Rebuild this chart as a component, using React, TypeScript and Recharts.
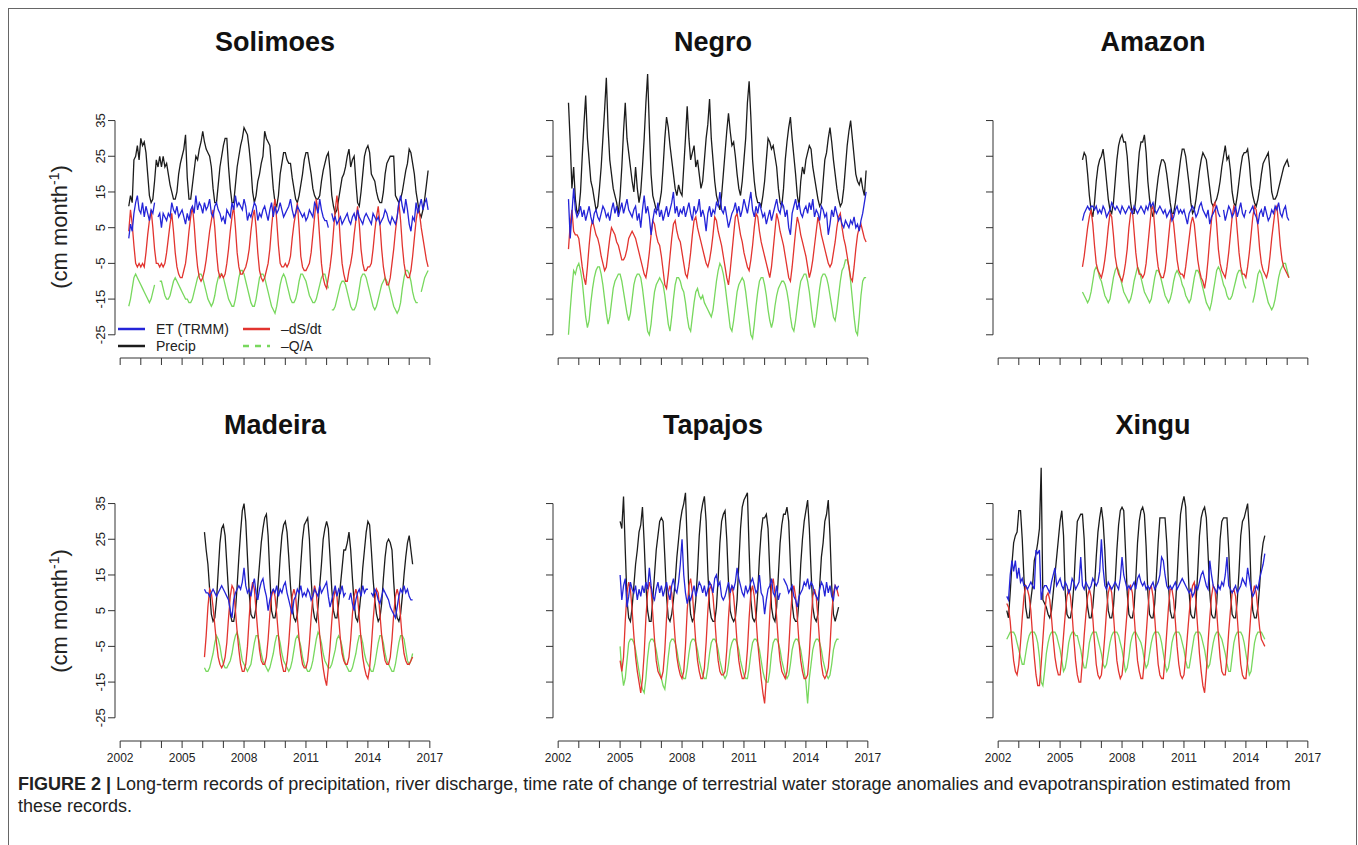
import React from 'react';
import { LineChart, Line, XAxis, YAxis, ReferenceLine } from 'recharts';

const FONT = '"Liberation Sans", Arial, Helvetica, sans-serif';
const C_ET = '#2424d8';
const C_P = '#1c1c1c';
const C_DS = '#e2342f';
const C_Q = '#78d85e';

const YEAR_TICKS = [2002, 2003, 2004, 2005, 2006, 2007, 2008, 2009, 2010, 2011, 2012, 2013, 2014, 2015, 2016, 2017];
const YEAR_LABELS = [2002, 2005, 2008, 2011, 2014, 2017];
const VALUE_TICKS = [-25, -15, -5, 5, 15, 25, 35];

// monthly series, one row per calendar year (first row starts at the panel's start month)

// Solimoes, from Jun 2002
const SOL_P = [
  11, 14, 12, 24, 25, 28, 24,
  30, 28, 29, 26, 20, 14, 12, 13, 18, 24, 22, 25,
  22, 25, 22, 23, 20, 17, 15, 13, 13, 15, 20, 23,
  25, 27, 31, 19, 13, 13, 17, 21, 25, 24, 27, 29,
  32, 29, 27, 26, 25, 22, 16, 12, 12, 17, 22, 25,
  28, 30, 30, 22, 16, 12, 12, 17, 22, 25, 28, 30,
  33, 32, 31, 27, 22, 15, 12, 14, 18, 20, 23, 25,
  32, 30, 29, 28, 22, 16, 12, 11, 14, 20, 23, 26,
  26, 24, 23, 23, 19, 16, 13, 12, 14, 17, 20, 24,
  26, 26, 23, 20, 16, 14, 13, 13, 14, 18, 21, 23,
  25, 26, 21, 14, 11, 9, 10, 13, 16, 19, 20, 22,
  25, 27, 22, 24, 25, 18, 12, 11, 15, 20, 25, 27,
  28, 26, 20, 19, 18, 15, 13, 12, 12, 15, 20, 23,
  24, 25, 25, 25, 14, 13, 12, 13, 15, 18, 21, 23,
  27, 26, 23, 20, 15, 12, 9, 8, 10, 13, 17, 21,
];
const SOL_ET = [
  2, 6, 4, 9, 12, 14, 10,
  9, 12, 8, 11, 9, 7, 10, 9, 12, null, 8, 9,
  5, 9, 8, 7, 9, 8, 12, 10, 9, 11, 8, 9,
  10, 8, 6, 9, 7, 10, 11, 9, 14, 10, 12, 11,
  9, 12, 10, 11, 13, 9, 8, 11, 12, 10, 9, 7,
  8, 6, 10, 9, 8, 12, 10, 14, 11, 12, 11, 10,
  13, 11, 7, 9, 8, 10, 12, 11, 7, 9, 8, 10,
  11, 9, 7, 10, 12, 8, 11, 9, 10, 12, 10, 8,
  9, 10, 11, 13, 10, 8, 9, 11, 10, 9, 8, 9,
  7, 8, 10, 9, 8, 12, 11, 9, 13, 10, 8, 7,
  7, 5, null, 9, 7, 8, 6, 7, 8, 6, 7, 8,
  9, 7, 6, 8, 9, 7, 10, 8, 7, 6, 8, 9,
  8, 7, 6, 9, 8, 7, 8, 6, 7, 8, 10, 9,
  7, 6, 8, 7, 6, 8, 12, 14, 11, 9, 13, 10,
  6, 4, 8, 7, 12, 9, 11, 13, 10, 12, 13, 10,
];
const SOL_DS = [
  4, 10, 6, 0, -5, -6, -5,
  -6, -5, -6, -2, 3, 7, 10, 5, -1, -5, -5, -6,
  -5, -6, -5, -2, 2, 6, 9, 4, -2, -6, -8, -9,
  -9, -7, -5, -1, 4, 8, 11, 6, -1, -6, -9, -10,
  -9, -7, -4, 0, 4, 7, 10, 5, -2, -7, -9, -8,
  -9, -8, -5, -1, 4, 8, 11, 5, -2, -6, -8, -8,
  -7, -6, -4, -1, 4, 8, 10, 5, -2, -7, -9, -10,
  -9, -7, -5, -1, 5, 10, 13, 7, 0, -5, -6, -6,
  -5, -6, -5, -3, 2, 6, 9, 12, 5, -3, -6, -7,
  -7, -6, -5, -2, 3, 8, 13, 9, 2, -5, -9, -11,
  -12, -9, -6, -2, 4, 10, 14, 9, 1, -5, -8, -10,
  -10, -7, -5, -2, 3, 7, 11, 6, -1, -5, -7, -7,
  -6, -6, -5, -1, 4, 8, 11, 6, -1, -6, -9, -11,
  -11, -9, -5, -1, 4, 8, 12, 7, 0, -5, -8, -9,
  -9, -7, -3, 2, 7, 10, 9, 5, 2, -1, -4, -6,
];
const SOL_Q = [
  -17, -15, -12, -9, -8, -9, -10,
  -11, -12, -13, -14, -15, -16, -15, -13, -11, null, null, -10,
  -10, -12, -14, -15, -15, -14, -12, -10, -9, -10, -11, -12,
  -13, -14, -15, -15, -16, -16, -15, -13, -11, -9, -8, -8,
  -9, -11, -13, -15, -16, -17, -16, -14, -11, -9, -8, -8,
  -9, -11, -13, -15, -16, -17, -17, -15, -12, -9, -7, -7,
  -8, -10, -12, -14, -16, -17, -17, -15, -12, -9, -8, -8,
  -9, -11, -13, -15, -17, -18, -19, -17, -14, -11, -9, -8,
  -9, -11, -13, -15, -16, -16, -15, -13, -10, -8, -8, -9,
  -10, -12, -14, -15, -16, -16, -15, -13, -11, -9, -8, -8,
  -10, -12, null, -18, -18, -17, -15, -13, -11, -10, -10, -11,
  -13, -15, -17, -18, -18, -17, -15, -12, -9, -8, -8, -9,
  -11, -13, -15, -17, -18, -17, -15, -13, -11, -10, -9, -10,
  -11, -13, -15, -17, -18, -19, -18, -16, -12, -9, -7, -7,
  -8, -10, -13, -15, -16, -16, null, -13, -11, -9, -8, -7,
];

// Negro, from Jul 2002
const NEG_P = [
  40, 29, 16, 22, 13, 9,
  10, 15, 25, 34, 42, 30, 24, 18, 16, 13, 10, 11,
  16, 22, 30, 38, 47, 33, 24, 20, 16, 14, 12, 9,
  14, 22, 32, 40, 30, 26, 22, 18, 15, 22, 16, 12,
  15, 22, 30, 40, 48, 33, 20, 14, 12, 10, 10, 12,
  15, 22, 30, 36, 33, 28, 24, 20, 16, 14, 17, 15,
  14, 22, 30, 39, 30, 24, 26, 28, 22, 24, 20, 16,
  18, 24, 30, 34, 41, 30, 24, 18, 14, 12, 10, 14,
  20, 26, 32, 37, 32, 28, 29, 25, 20, 16, 14, 18,
  24, 30, 40, 46, 36, 24, 18, 14, 12, 12, 11, 14,
  18, 24, 30, 29, 27, 28, 25, 22, 16, 12, 11, 16,
  24, 29, 33, 36, 30, 25, 20, 14, 11, 18, 22, 20,
  24, 26, 28, 27, 22, 19, 16, 13, 11, 12, 18, 24,
  26, 30, 33, 29, 24, 20, 16, 13, 11, 12, 16, 22,
  28, 32, 35, 30, 25, 20, 18, 17, 19, 16, 14, 21,
];
const NEG_ET = [
  13, 2, 9, 16, 10, 8,
  9, 11, 8, 10, 7, 9, 11, 8, 6, 9, 10, 8,
  7, 9, 11, 10, 8, 9, 7, 10, 12, 9, 11, 8,
  10, 12, 9, 11, 13, 10, 9, 8, 10, 11, 7, 9,
  5, 10, 14, 9, 11, 8, 3, 7, 10, 9, 12, 8,
  10, 7, 9, 11, 8, 10, 12, 15, 9, 11, 8, 10,
  9, 11, 8, 10, 12, 9, 7, 11, 9, 10, 13, 8,
  10, 8, 4, 9, 11, 8, 10, 9, 12, 11, 15, 10,
  9, 11, 8, 5, 7, 9, 10, 12, 9, 11, 8, 10,
  13, 11, 9, 12, 15, 10, 8, 11, 9, 12, 10, 8,
  9, 6, 8, 10, 7, 9, 11, 13, 10, 9, 12, 11,
  8, 10, 5, 3, 9, 11, 13, 10, 12, 9, 8, 10,
  11, 9, 12, 10, 13, 8, 10, 9, 7, 11, 10, 8,
  9, 3, 6, 10, 8, 11, 9, 7, 8, 6, 5, 7,
  6, 5, 7, 6, 8, 5, 6, 4, 7, 9, 12, 15,
];
const NEG_DS = [
  -1, 6, 10, 4, 3, 3,
  2, -2, -6, -9, -11, -6, 0, 5, 7, 5, 3, 2,
  0, -3, -5, -7, -6, -2, 2, 5, 4, 3, 1, 0,
  -2, -4, -4, -3, -1, 2, 3, 4, 3, 2, 0, -2,
  -4, -6, -8, -9, -6, -2, 3, 7, 6, 3, 1, 0,
  -3, -7, -11, -12, -8, -3, 2, 6, 7, 4, 2, 1,
  -2, -5, -8, -9, -6, -2, 3, 7, 8, 5, 3, 1,
  -1, -3, -5, -6, -4, -1, 3, 8, 7, 4, 2, 0,
  -3, -6, -9, -11, -7, -2, 3, 8, 9, 6, 3, 1,
  -2, -4, -6, -7, -4, 0, 5, 9, 8, 4, 1, -1,
  -3, -5, -7, -9, -6, -1, 4, 9, 7, 4, 2, 0,
  -3, -6, -9, -10, -6, -1, 4, 8, 6, 3, 1, -1,
  -3, -6, -9, -7, -4, 0, 4, 8, 6, 3, 1, -1,
  -3, -5, -6, -5, -2, 1, 5, 8, 9, 5, 2, 0,
  -3, -6, -9, -10, -6, -1, 3, 5, 6, 4, 2, 1,
];
const NEG_Q = [
  -25, -18, -12, -7, -8, -6,
  -5, -7, -10, -15, -20, -23, -21, -16, -12, -9, -7, -6,
  -6, -8, -11, -15, -19, -22, -20, -16, -12, -10, -9, -8,
  -8, -10, -13, -16, -19, -21, -19, -15, -11, -9, -8, -8,
  -9, -12, -16, -20, -24, -25, -22, -17, -13, -11, -10, -9,
  -10, -11, -14, -18, -22, -24, -20, -15, -11, -9, -9, -10,
  -12, -13, -16, -20, -23, -24, -20, -16, -13, -12, -14, -15,
  -14, -16, -17, -18, -19, -20, -18, -14, -10, -7, -5, -6,
  -8, -11, -15, -19, -23, -24, -21, -17, -13, -11, -10, -9,
  -10, -13, -17, -21, -25, -26, -22, -17, -13, -10, -9, -9,
  -11, -14, -18, -21, -23, -21, -17, -14, -12, -11, -10, -10,
  -11, -13, -16, -20, -23, -24, -21, -17, -13, -10, -9, -8,
  -8, -10, -13, -17, -21, -23, -20, -16, -12, -9, -8, -8,
  -9, -11, -14, -17, -20, -21, -18, -14, -10, -7, -6, -4,
  -4, -6, -10, -15, -20, -24, -25, -20, -14, -10, -9, -9,
];

// Amazon, from Feb 2006
const AMA_P = [
  24, 26, 25, 20, 14, 10, 8, 12, 18, 22, 24,
  25, 27, 23, 18, 13, 10, 9, 12, 18, 24, 28, 30,
  31, 29, 29, 25, 18, 12, 9, 9, 13, 20, 26, 29,
  29, 31, 26, 18, 13, 10, 8, 10, 15, 19, 22, 24,
  24, 23, 20, 16, 12, 9, 9, 12, 16, 20, 24, 27,
  27, 25, 21, 17, 12, 9, 10, 13, 17, 21, 24, 26,
  25, 24, 20, 16, 12, 11, 12, 13, 15, 18, 22, 25,
  28, 24, 25, 21, 15, 12, 11, 14, 18, 22, 25, 26,
  26, 27, 23, 17, 14, 12, 11, 13, 16, 20, 23, 24,
  25, 26, 21, 15, 13, 13, 14, 16, 18, 20, 22, 23,
  24, 22,
];
const AMA_ET = [
  7, 9, 10, 11, 10, 11, 11, 10, 11, 9, 10,
  9, 11, 10, 8, 9, 10, 12, 11, 10, 11, 10, 9,
  11, 10, 9, 10, 11, 10, 9, 11, 10, 9, 10, 11,
  10, 9, 11, 10, 12, 11, 12, 10, 9, 10, 11, 10,
  9, 10, 8, 9, 10, 7, 8, 10, 11, 9, 10, 9,
  10, 8, 6, 9, 10, 11, 10, 8, 9, 11, 12, 10,
  9, 8, 10, 6, 8, 9, 10, 11, 9, 8, null, 10,
  7, 9, 11, 10, 8, 9, 11, 8, 10, 12, 9, 8,
  10, null, 9, 10, 11, 9, 8, 6, 9, 10, 8, 11,
  9, 7, 8, 10, 9, 11, 10, 12, 9, 8, 10, 11,
  8, 7,
];
const AMA_DS = [
  -6, -3, 1, 5, 8, 10, 6, 0, -5, -7, -8,
  -9, -7, -4, 0, 5, 9, 8, 3, -3, -6, -8, -9,
  -10, -8, -5, -1, 5, 9, 10, 4, -2, -6, -8, -8,
  -9, -8, -5, 0, 5, 10, 11, 5, -2, -6, -8, -9,
  -9, -7, -3, 2, 7, 9, 6, 1, -4, -7, -8, -8,
  -9, -6, -2, 2, 6, 8, 6, 1, -4, -7, -9, -10,
  -12, -9, -4, 2, 7, 11, 12, 6, -1, -5, -7, -8,
  -9, -6, -2, 3, 8, 11, 10, 4, -2, -6, -8, -8,
  -9, -6, -2, 3, 8, 11, 10, 5, -1, -5, -7, -8,
  -9, -7, -3, 2, 6, 10, 11, 6, 0, -4, -6, -7,
  -8, -9,
];
const AMA_Q = [
  -13, -14, -15, -16, -15, -13, -10, -7, -6, -7, -9,
  -10, -12, -14, -15, -16, -15, -12, -9, -7, -6, -7, -9,
  -11, -13, -14, -15, -16, -15, -13, -10, -8, -6, -7, -9,
  -11, -13, -14, -15, -16, -15, -12, -9, -7, -7, -8, -10,
  -12, -14, -15, -16, -15, -13, -10, -8, -7, -8, -9, -11,
  -12, -14, -15, -16, -15, -12, -9, -7, -7, -8, -10, -12,
  -14, -16, -17, -18, -16, -13, -10, -7, -6, -7, -9, -11,
  -12, -14, -15, -15, -14, -12, -10, -8, -7, -7, -9, -11,
  -12, null, null, null, -16, -14, -11, -8, -7, -8, -10, -12,
  -14, -16, -17, -18, -17, -15, -12, -9, -7, -6, -5, -5,
  -7, -9,
];

// Madeira, from Feb 2006
const MAD_P = [
  27, 22, 18, 11, 4, 2, 3, 8, 16, 24, 28,
  29, 26, 18, 10, 4, 2, 2, 5, 12, 20, 27, 33,
  35, 30, 20, 10, 4, 3, 3, 6, 12, 18, 24, 28,
  31, 32, 26, 15, 5, 3, 3, 6, 12, 20, 26, 29,
  30, 27, 20, 12, 6, 3, 2, 4, 10, 18, 25, 29,
  30, 31, 25, 14, 6, 3, 2, 6, 12, 18, 25, 28,
  30, 28, 20, 11, 5, 3, 3, 7, 12, 17, 22, 22,
  24, 27, 22, 14, 7, 3, 2, 5, 10, 17, 22, 27,
  30, 29, 22, 14, 8, 4, 2, 3, 7, 14, 20, 24,
  25, 24, 22, 13, 6, 3, 2, 4, 9, 15, 20, 24,
  26, 22, 18,
];
const MAD_ET = [
  11, 10, 10, 9, 10, 11, 10, 9, 10, 11, 12,
  11, 10, 9, 8, 5, 3, 8, 10, 11, 12, 11, 13,
  17, 12, 10, 11, 9, 12, 14, 10, 8, 11, 13, 14,
  11, 9, 5, 8, 10, 11, 10, 12, 9, 11, 10, 12,
  13, 10, 8, 6, 4, 8, 9, 11, 10, 12, 9, 10,
  9, 11, 10, 8, 9, 11, 10, 9, 12, 10, 11, 12,
  13, 9, 6, 8, 10, 12, 9, 11, 10, 12, 9, 10,
  null, 8, 10, 7, 5, 8, 10, 11, 9, 12, 10, 11,
  11, null, 10, 9, 11, 10, 8, 7, 9, 11, 10, 9,
  8, 6, 5, 4, 3, 6, 9, 11, 10, 12, 10, 11,
  9, 8, 8,
];
const MAD_DS = [
  -8, -2, 6, 11, 10, 6, 1, -4, -8, -10, -11,
  -10, -8, -4, 3, 9, 12, 11, 5, -1, -6, -10, -12,
  -12, -10, -5, 3, 10, 13, 11, 5, -1, -6, -9, -10,
  -10, -8, -3, 4, 9, 11, 9, 4, -2, -7, -10, -12,
  -12, -9, -4, 3, 9, 11, 9, 3, -3, -7, -10, -11,
  -11, -9, -4, 3, 9, 12, 10, 4, -2, -7, -11, -14,
  -16, -11, -5, 2, 8, 11, 9, 3, -3, -7, -9, -10,
  -10, -8, -3, 4, 9, 11, 9, 3, -3, -8, -11, -13,
  -14, -11, -5, 2, 8, 11, 10, 4, -2, -6, -9, -10,
  -10, -8, -3, 4, 9, 11, 9, 3, -3, -7, -9, -10,
  -10, -9, -8,
];
const MAD_Q = [
  -11, -12, -12, -11, -9, -7, -4, -2, -3, -5, -8,
  -10, -11, -11, -10, -9, -7, -4, -2, -1, -3, -6, -9,
  -10, -11, -12, -11, -10, -7, -4, -2, -2, -4, -7, -9,
  -10, -11, -12, -11, -9, -7, -4, -2, -2, -4, -7, -9,
  -10, -11, -12, -11, -9, -6, -3, -2, -3, -5, -8, -10,
  -11, -12, -12, -11, -9, -6, -3, -1, -2, -4, -7, -9,
  -10, -11, -11, -10, -8, -6, -3, -2, -3, -5, -8, -10,
  -11, -12, -12, -11, -9, -7, -4, -2, -2, -4, -7, -9,
  -10, -11, -12, -12, -10, -7, -4, -2, -2, -4, -7, -9,
  -10, -11, -12, -12, -10, -7, -4, -2, -2, -3, -6, -9,
  -10, -9, -7,
];

// Tapajos, from Jan 2005
const TAP_P = [
  30, 28, 37, 22, 8, 3, 2, 6, 12, 18, 22, 27,
  29, 34, 24, 12, 5, 2, 2, 8, 15, 22, 26, 30,
  31, 30, 20, 9, 3, 2, 4, 8, 13, 20, 25, 30,
  33, 35, 38, 24, 10, 4, 2, 3, 8, 16, 26, 32,
  35, 37, 30, 16, 6, 3, 2, 2, 6, 14, 24, 30,
  32, 33, 25, 13, 5, 3, 2, 3, 8, 18, 28, 34,
  36, 37, 38, 22, 8, 3, 2, 3, 10, 20, 27, 31,
  31, 32, 28, 16, 6, 3, 2, 6, 15, 24, 29, 32,
  32, 34, 30, 18, 7, 3, 2, 2, 8, 18, 25, 30,
  33, 36, 28, 16, 6, 3, 2, 4, 12, 20, 24, 30,
  32, 36, 26, 12, 4, 2, 4, 6,
];
const TAP_ET = [
  15, 8, 12, 14, 6, 9, 13, 11, 10, 12, 8, 11,
  9, 12, 10, 13, 11, 17, 12, 9, 8, 11, 13, 10,
  12, 9, 11, 13, 10, 8, 12, 14, 11, 10, 13, 18,
  25, 15, 10, 7, 9, 8, 10, 12, 9, 11, 13, 12,
  10, 12, 9, 11, 13, 12, 10, 14, 15, 12, 13, 9,
  8, 9, 11, 13, 10, 12, 11, 13, 17, 14, 12, 10,
  9, 12, 10, 11, 13, 14, 12, 10, 11, 15, 10, 9,
  4, 8, 11, 12, 14, 10, 9, 12, 8, 10, null, 14,
  13, 12, 10, 11, 12, 9, 8, 6, 9, 10, 11, 13,
  12, 14, 11, 13, 12, 10, 9, 8, 11, 13, 12, 9,
  13, 10, 12, 9, 8, 12, 11, 12,
];
const TAP_DS = [
  -9, -12, -8, 2, 10, 13, 11, 5, -2, -8, -12, -15,
  -18, -14, -7, 3, 10, 13, 11, 4, -3, -9, -12, -13,
  -14, -12, -6, 3, 10, 12, 10, 4, -3, -8, -11, -13,
  -14, -12, -5, 5, 12, 14, 10, 3, -4, -9, -12, -14,
  -14, -11, -4, 5, 11, 12, 9, 3, -4, -9, -12, -13,
  -13, -12, -6, 3, 10, 12, 9, 3, -4, -9, -12, -14,
  -14, -12, -6, 3, 10, 12, 9, 3, -4, -9, -14, -18,
  -21, -14, -6, 4, 12, 14, 10, 3, -4, -9, -12, -13,
  -14, -12, -6, 3, 10, 12, 9, 3, -4, -9, -12, -14,
  -14, -13, -7, 2, 9, 11, 9, 3, -4, -10, -13, -14,
  -13, -11, -5, 4, 10, 12, 11, 9,
];
const TAP_Q = [
  -5, -12, -16, -14, -9, -4, -3, -3, -4, -6, -9, -12,
  -15, -17, -18, -14, -8, -4, -3, -3, -4, -6, -9, -12,
  -14, -16, -17, -13, -8, -4, -3, -3, -4, -6, -9, -11,
  -13, -14, -14, -11, -7, -4, -3, -3, -4, -6, -9, -11,
  -13, -14, -14, -11, -7, -4, -3, -3, -4, -6, -9, -11,
  -13, -14, -13, -10, -6, -4, -3, -3, -4, -6, -9, -11,
  -13, -14, -14, -11, -7, -4, -3, -3, -4, -6, -9, -12,
  -14, -15, -15, -12, -7, -4, -3, -3, -4, -6, -9, -11,
  -13, -14, -13, -10, -6, -4, -3, -3, -4, -6, -9, -12,
  -15, -21, -14, -10, -6, -4, -3, -3, -4, -6, -9, -11,
  -13, -14, -13, -10, -6, -4, -3, -3,
];

// Xingu, from Jun 2002
const XIN_P = [
  5, 3, 10, 18, 24, 26, 27,
  33, 33, 25, 14, 6, 3, 3, 8, 12, 19, 21, 24,
  28, 45, 8, 7, 6, 4, 3, 5, 10, 15, 20, 25,
  30, 33, 26, 10, 4, 3, 3, 6, 12, 22, 30, 31,
  32, 32, 25, 12, 6, 3, 3, 6, 12, 20, 27, 31,
  34, 30, 22, 11, 5, 3, 3, 6, 13, 22, 29, 33,
  34, 33, 22, 10, 4, 3, 3, 6, 14, 24, 30, 33,
  34, 32, 23, 10, 4, 3, 3, 7, 15, 24, 31, 31,
  31, 31, 24, 12, 5, 3, 3, 6, 14, 24, 32, 35,
  37, 34, 22, 10, 4, 3, 3, 7, 16, 26, 31, 33,
  34, 31, 21, 10, 4, 3, 3, 7, 15, 25, 30, 31,
  31, 31, 22, 10, 4, 3, 3, 8, 16, 26, 30, 31,
  33, 35, 27, 12, 5, 3, 3, 6, 12, 20, 24, 26,
];
const XIN_ET = [
  9, 8, 15, 19, 16, 19, 14,
  17, 13, 14, 12, 12, 11, 12, 13, 12, 11, 22, 21,
  22, 8, 11, 12, 12, 11, 10, 13, 15, 17, 12, 13,
  14, 12, 11, 13, 12, 10, 11, 14, 13, 11, 12, 13,
  20, 12, 11, 13, 12, 11, 12, 14, 13, 12, 13, 16,
  25, 17, 12, 11, 13, 12, 11, 12, 13, 12, 11, 14,
  20, 15, 13, 11, 12, 11, 12, 13, 11, 14, 15, 13,
  12, 13, 11, 12, 11, 12, 13, 11, 12, 13, 15, 20,
  19, 15, 12, 11, 12, 11, 12, 13, 11, 12, 13, 14,
  13, 12, 11, 10, 11, 9, 10, 12, 11, 13, 15, 16,
  14, 12, 11, 19, 15, 12, 11, 10, 12, 11, 13, 12,
  15, 20, 12, 11, 10, 11, 12, 10, 11, 12, 14, 13,
  12, 17, 14, 11, 9, 10, 12, 11, 14, 16, 18, 21,
];
const XIN_DS = [
  7, 6, 2, -4, -9, -12, -13,
  -10, -4, 3, 9, 12, 11, 9, 5, -2, -8, -13, -16,
  -16, -10, -3, 4, 9, 10, 8, 3, -3, -8, -11, -13,
  -13, -8, -2, 4, 9, 11, 9, 4, -3, -9, -13, -15,
  -15, -9, -2, 4, 9, 11, 9, 3, -4, -10, -13, -14,
  -13, -8, -2, 5, 10, 12, 10, 4, -3, -9, -12, -14,
  -13, -8, -1, 5, 11, 12, 10, 4, -3, -9, -12, -14,
  -14, -9, -2, 5, 11, 12, 9, 3, -4, -10, -13, -14,
  -14, -8, -1, 6, 11, 11, 8, 2, -5, -10, -13, -14,
  -13, -8, -2, 4, 9, 12, 13, 7, 0, -7, -12, -16,
  -18, -12, -4, 3, 9, 12, 11, 5, -2, -8, -12, -13,
  -13, -8, -1, 5, 10, 11, 9, 3, -4, -10, -13, -14,
  -14, -9, -2, 5, 10, 12, 10, 5, 0, -3, -4, -5,
];
const XIN_Q = [
  -3, -2, -1, -1, -1, -2, -4,
  -6, -8, -10, -10, -7, -4, -2, -1, -1, -1, -2, -4,
  -8, -15, -16, -12, -7, -4, -2, -1, -1, -1, -2, -4,
  -6, -9, -12, -11, -8, -4, -2, -1, -1, -2, -2, -4,
  -6, -9, -11, -11, -8, -4, -2, -1, -1, -1, -3, -5,
  -7, -10, -11, -10, -7, -4, -2, -1, -1, -1, -2, -4,
  -6, -9, -12, -11, -8, -4, -2, -1, -1, -2, -3, -4,
  -6, -9, -11, -10, -7, -4, -2, -1, -1, -1, -2, -4,
  -7, -10, -12, -11, -8, -4, -2, -1, -1, -1, -2, -4,
  -6, -9, -11, -11, -8, -5, -2, -1, -1, -1, -2, -4,
  -6, -9, -11, -10, -7, -4, -2, -1, -1, -2, -3, -5,
  -7, -10, -12, -12, -8, -4, -2, -1, -1, -1, -2, -4,
  -7, -10, -13, -12, -8, -4, -2, -1, -1, -1, -2, -3,
];

// layout (page pixels)
const X_MIN = 2001.75;
const X_MAX = 2017.25;
const Y_MIN = -31.5;
const Y_MAX = 50;
const Y_AXIS_W = 40;
const X_AXIS_H = 30;
const M_TOP = 10;
const M_RIGHT = 10;
const PLOT_W = 320;
const PLOT_H = 291;
const COL_X = [114.8, 552.8, 992.8];
const ROW_Y = [66.5, 449.5];
const TITLE_X = [275, 713, 1153];
const TITLE_Y = [42, 425];

type Series = (number | null)[];
interface PanelCfg {
  title: string;
  start: number;
  p: Series;
  et: Series;
  ds: Series;
  q: Series;
  col: number;
  row: number;
}

const PANELS: PanelCfg[] = [
  { title: 'Solimoes', start: 2002 + 5 / 12, p: SOL_P, et: SOL_ET, ds: SOL_DS, q: SOL_Q, col: 0, row: 0 },
  { title: 'Negro', start: 2002 + 6 / 12, p: NEG_P, et: NEG_ET, ds: NEG_DS, q: NEG_Q, col: 1, row: 0 },
  { title: 'Amazon', start: 2006 + 1 / 12, p: AMA_P, et: AMA_ET, ds: AMA_DS, q: AMA_Q, col: 2, row: 0 },
  { title: 'Madeira', start: 2006 + 1 / 12, p: MAD_P, et: MAD_ET, ds: MAD_DS, q: MAD_Q, col: 0, row: 1 },
  { title: 'Tapajos', start: 2005, p: TAP_P, et: TAP_ET, ds: TAP_DS, q: TAP_Q, col: 1, row: 1 },
  { title: 'Xingu', start: 2002 + 5 / 12, p: XIN_P, et: XIN_ET, ds: XIN_DS, q: XIN_Q, col: 2, row: 1 },
];

function buildRows(cfg: PanelCfg) {
  const n = Math.max(cfg.p.length, cfg.et.length, cfg.ds.length, cfg.q.length);
  const rows = [];
  for (let i = 0; i < n; i++) {
    rows.push({
      t: cfg.start + i / 12,
      p: cfg.p[i] ?? null,
      et: cfg.et[i] ?? null,
      ds: cfg.ds[i] ?? null,
      q: cfg.q[i] ?? null,
    });
  }
  return rows;
}

const XTick = ({ x, y, payload, show }: any) => {
  if (!show || !YEAR_LABELS.includes(payload.value)) return <g />;
  return (
    <text x={x} y={y} dy="0.71em" textAnchor="middle" fontSize={12} fill="#222" fontFamily={FONT}>
      {payload.value}
    </text>
  );
};

const YTick = ({ x, y, payload, show }: any) => {
  if (!show) return <g />;
  return (
    <text transform={`translate(${x},${y}) rotate(-90)`} textAnchor="middle" fontSize={13} fill="#222" fontFamily={FONT}>
      {payload.value}
    </text>
  );
};

const Panel = ({ cfg }: { cfg: PanelCfg }) => {
  const rows = buildRows(cfg);
  const showY = cfg.col === 0;
  const showX = cfg.row === 1;
  return (
    <div style={{ position: 'absolute', left: COL_X[cfg.col] - Y_AXIS_W, top: ROW_Y[cfg.row] - M_TOP }}>
      <LineChart
        width={Y_AXIS_W + PLOT_W + M_RIGHT}
        height={M_TOP + PLOT_H + X_AXIS_H}
        data={rows}
        margin={{ top: M_TOP, right: M_RIGHT, bottom: 0, left: 0 }}
      >
        <XAxis
          type="number"
          dataKey="t"
          domain={[X_MIN, X_MAX]}
          allowDataOverflow
          ticks={YEAR_TICKS}
          interval={0}
          axisLine={false}
          tickLine={{ stroke: '#333' }}
          tickSize={7}
          tickMargin={5}
          height={X_AXIS_H}
          tick={(props: any) => <XTick {...props} show={showX} />}
        />
        <YAxis
          type="number"
          domain={[Y_MIN, Y_MAX]}
          allowDataOverflow
          ticks={VALUE_TICKS}
          interval={0}
          axisLine={false}
          tickLine={{ stroke: '#333' }}
          tickSize={7}
          tickMargin={3}
          width={Y_AXIS_W}
          tick={(props: any) => <YTick {...props} show={showY} />}
        />
        <ReferenceLine segment={[{ x: X_MIN, y: -25 }, { x: X_MIN, y: 35 }]} stroke="#333" ifOverflow="visible" />
        <ReferenceLine segment={[{ x: 2002, y: Y_MIN }, { x: 2017, y: Y_MIN }]} stroke="#333" ifOverflow="visible" />
        <Line dataKey="p" stroke={C_P} strokeWidth={1.3} dot={false} isAnimationActive={false} />
        <Line dataKey="q" stroke={C_Q} strokeWidth={1.3} dot={false} isAnimationActive={false} />
        <Line dataKey="ds" stroke={C_DS} strokeWidth={1.3} dot={false} isAnimationActive={false} />
        <Line dataKey="et" stroke={C_ET} strokeWidth={1.3} dot={false} isAnimationActive={false} />
      </LineChart>
    </div>
  );
};

const LEGEND = [
  { label: 'ET (TRMM)', color: C_ET, dash: undefined, x: 118, y: 329 },
  { label: '–dS/dt', color: C_DS, dash: undefined, x: 243, y: 329 },
  { label: 'Precip', color: C_P, dash: undefined, x: 118, y: 346 },
  { label: '–Q/A', color: C_Q, dash: '6 6', x: 243, y: 346 },
];

const App = () => {
  return (
    <div style={{ position: 'absolute', left: 0, top: 0, width: 1358, height: 845, overflow: 'hidden', background: '#fff', fontFamily: FONT }}>
      <div style={{ position: 'absolute', left: 8, top: 8, width: 1347, height: 900, border: '1px solid #666' }} />

      {PANELS.map((cfg) => (
        <React.Fragment key={cfg.title}>
          <div
            style={{
              position: 'absolute',
              left: TITLE_X[cfg.col] - 150,
              top: TITLE_Y[cfg.row] - 17,
              width: 300,
              textAlign: 'center',
              fontSize: 27,
              fontWeight: 'bold',
              lineHeight: '34px',
              color: '#111',
            }}
          >
            {cfg.title}
          </div>
          <Panel cfg={cfg} />
        </React.Fragment>
      ))}

      {[227, 611].map((cy) => (
        <div
          key={cy}
          style={{
            position: 'absolute',
            left: 60 - 100,
            top: cy - 14,
            width: 200,
            height: 28,
            lineHeight: '28px',
            textAlign: 'center',
            fontSize: 22,
            color: '#222',
            transform: 'rotate(-90deg)',
          }}
        >
          (cm month<sup style={{ fontSize: 14, lineHeight: 0 }}>-1</sup>)
        </div>
      ))}

      {LEGEND.map((item) => (
        <div key={item.label} style={{ position: 'absolute', left: item.x, top: item.y - 9, height: 18, display: 'flex', alignItems: 'center' }}>
          <svg width={28} height={18}>
            <line x1={0} y1={9} x2={27} y2={9} stroke={item.color} strokeWidth={2.5} strokeDasharray={item.dash} />
          </svg>
          <span style={{ marginLeft: 10, fontSize: 14, color: '#222', whiteSpace: 'nowrap' }}>{item.label}</span>
        </div>
      ))}

      <div style={{ position: 'absolute', left: 18, top: 773, fontSize: 18, lineHeight: '22px', color: '#222', whiteSpace: 'nowrap' }}>
        <div>
          <b>FIGURE 2 |</b> Long-term records of precipitation, river discharge, time rate of change of terrestrial water storage anomalies and evapotranspiration estimated from
        </div>
        <div>these records.</div>
      </div>
    </div>
  );
};

export default App;
